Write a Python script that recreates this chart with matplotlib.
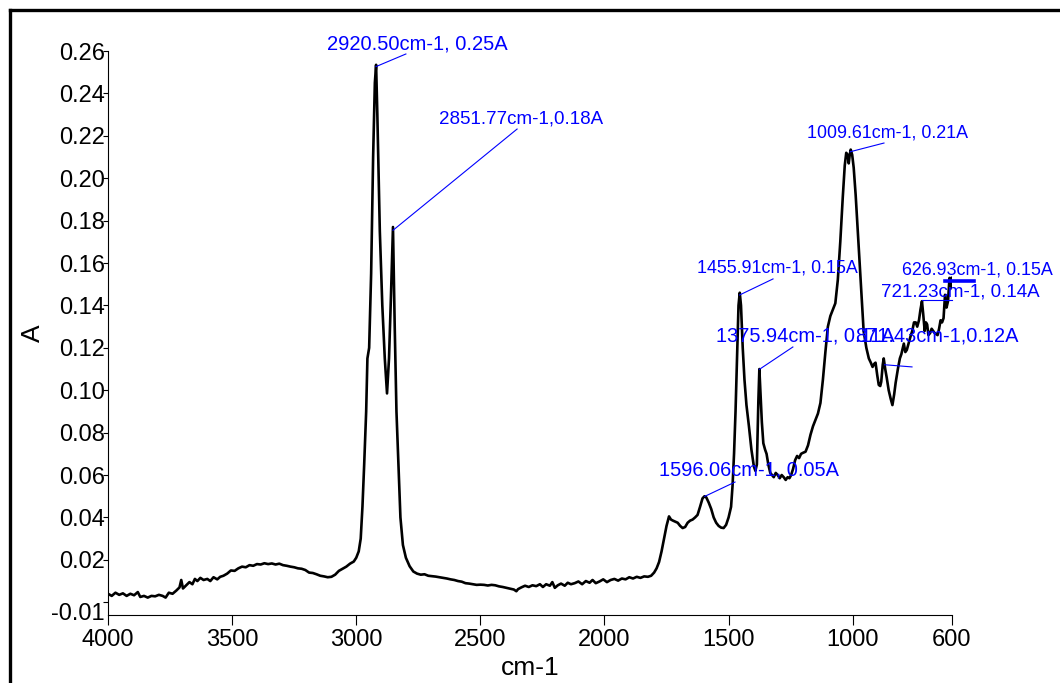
import numpy as np
import matplotlib
matplotlib.use('Agg')
import matplotlib.pyplot as plt
from matplotlib.lines import Line2D
from matplotlib.transforms import ScaledTranslation

plt.rcParams['font.family'] = ['Liberation Sans', 'DejaVu Sans']

# FTIR absorbance spectrum (wavenumber in cm-1, absorbance in A)
wavenumber = [
    4000, 3985, 3970, 3955, 3940, 3925, 3910, 3895, 3880, 3870, 3855, 3840, 3825, 3810,
    3795, 3780, 3768, 3755, 3740, 3725, 3712, 3705, 3698, 3685, 3672, 3660, 3650, 3640,
    3628, 3615, 3600, 3588, 3575, 3560, 3548, 3535, 3520, 3505, 3490, 3475, 3460, 3445,
    3430, 3415, 3400, 3385, 3370, 3355, 3340, 3325, 3310, 3295, 3280, 3265, 3250, 3235,
    3220, 3205, 3190, 3175, 3160, 3145, 3130, 3115, 3100, 3085, 3070, 3055, 3040, 3025,
    3010, 3000, 2990, 2982, 2975, 2968, 2960, 2955, 2948, 2940, 2932, 2925, 2920, 2915,
    2905, 2895, 2885, 2876, 2868, 2860, 2852, 2845, 2838, 2830, 2822, 2812, 2800, 2785,
    2770, 2755, 2740, 2725, 2710, 2695, 2680, 2665, 2650, 2635, 2620, 2605, 2590, 2575,
    2560, 2545, 2530, 2515, 2500, 2485, 2470, 2455, 2440, 2425, 2410, 2395, 2380, 2365,
    2355, 2348, 2335, 2320, 2305, 2290, 2275, 2260, 2248, 2235, 2220, 2210, 2200, 2188,
    2175, 2160, 2148, 2135, 2120, 2105, 2090, 2075, 2060, 2048, 2035, 2020, 2005, 1990,
    1975, 1960, 1945, 1930, 1915, 1900, 1885, 1870, 1855, 1840, 1825, 1812, 1800, 1790,
    1780, 1770, 1760, 1750, 1740, 1732, 1724, 1714, 1705, 1695, 1685, 1675, 1665, 1655,
    1645, 1635, 1625, 1615, 1605, 1597, 1590, 1580, 1570, 1560, 1550, 1540, 1530, 1520,
    1510, 1500, 1490, 1484, 1478, 1472, 1466, 1460, 1455, 1450, 1443, 1436, 1428, 1418,
    1408, 1398, 1392, 1386, 1380, 1376, 1372, 1366, 1360, 1353, 1347, 1340, 1332, 1325,
    1318, 1310, 1302, 1294, 1286, 1278, 1270, 1262, 1255, 1248, 1240, 1232, 1224, 1216,
    1208, 1200, 1190, 1180, 1170, 1160, 1150, 1140, 1130, 1120, 1110, 1100, 1090, 1080,
    1070, 1060, 1050, 1040, 1032, 1026, 1020, 1016, 1012, 1008, 1002, 996, 988, 980,
    968, 956, 945, 935, 927, 920, 913, 908, 901, 895, 889, 885, 879, 875,
    869, 863, 855, 847, 840, 833, 827, 818, 810, 804, 798, 794, 788, 782,
    775, 768, 760, 753, 746, 740, 733, 727, 721, 716, 710, 705, 700, 695,
    688, 682, 676, 670, 664, 658, 652, 646, 640, 634, 628, 622, 616, 610,
    605, 600,
]
absorbance = [
    0.0040, 0.0030, 0.0045, 0.0035, 0.0042, 0.0030, 0.0040, 0.0033, 0.0048, 0.0025, 0.0030, 0.0022, 0.0030, 0.0028,
    0.0035, 0.0030, 0.0022, 0.0045, 0.0040, 0.0055, 0.0070, 0.0105, 0.0065, 0.0080, 0.0095, 0.0085, 0.0110, 0.0100,
    0.0115, 0.0105, 0.0110, 0.0100, 0.0118, 0.0108, 0.0120, 0.0125, 0.0135, 0.0150, 0.0148, 0.0160, 0.0168, 0.0165,
    0.0175, 0.0172, 0.0180, 0.0178, 0.0184, 0.0180, 0.0183, 0.0178, 0.0182, 0.0175, 0.0172, 0.0168, 0.0165, 0.0160,
    0.0158, 0.0152, 0.0140, 0.0138, 0.0132, 0.0125, 0.0122, 0.0118, 0.0120, 0.0130, 0.0148, 0.0158, 0.0168, 0.0182,
    0.0192, 0.0210, 0.0240, 0.0300, 0.0450, 0.0650, 0.0900, 0.1150, 0.1200, 0.1550, 0.2100, 0.2450, 0.2535, 0.2300,
    0.1750, 0.1400, 0.1150, 0.0985, 0.1150, 0.1450, 0.1770, 0.1300, 0.0900, 0.0650, 0.0400, 0.0270, 0.0210, 0.0170,
    0.0145, 0.0135, 0.0130, 0.0132, 0.0125, 0.0123, 0.0121, 0.0118, 0.0115, 0.0112, 0.0108, 0.0105, 0.0100, 0.0097,
    0.0090, 0.0088, 0.0085, 0.0082, 0.0083, 0.0082, 0.0079, 0.0082, 0.0080, 0.0075, 0.0072, 0.0068, 0.0064, 0.0060,
    0.0052, 0.0062, 0.0070, 0.0078, 0.0072, 0.0080, 0.0076, 0.0085, 0.0072, 0.0085, 0.0078, 0.0095, 0.0068, 0.0080,
    0.0088, 0.0078, 0.0092, 0.0085, 0.0090, 0.0098, 0.0085, 0.0100, 0.0092, 0.0105, 0.0090, 0.0098, 0.0108, 0.0095,
    0.0105, 0.0110, 0.0102, 0.0112, 0.0108, 0.0118, 0.0112, 0.0120, 0.0115, 0.0122, 0.0120, 0.0125, 0.0140, 0.0160,
    0.0190, 0.0240, 0.0300, 0.0360, 0.0405, 0.0390, 0.0385, 0.0380, 0.0375, 0.0360, 0.0350, 0.0355, 0.0375, 0.0385,
    0.0390, 0.0400, 0.0412, 0.0450, 0.0490, 0.0500, 0.0495, 0.0470, 0.0440, 0.0400, 0.0375, 0.0360, 0.0352, 0.0350,
    0.0365, 0.0400, 0.0450, 0.0550, 0.0700, 0.0900, 0.1150, 0.1400, 0.1460, 0.1400, 0.1200, 0.1050, 0.0930, 0.0830,
    0.0720, 0.0640, 0.0620, 0.0650, 0.0950, 0.1100, 0.1000, 0.0850, 0.0750, 0.0720, 0.0700, 0.0650, 0.0610, 0.0600,
    0.0590, 0.0610, 0.0600, 0.0585, 0.0600, 0.0590, 0.0577, 0.0590, 0.0585, 0.0600, 0.0630, 0.0670, 0.0690, 0.0680,
    0.0700, 0.0705, 0.0710, 0.0740, 0.0790, 0.0830, 0.0860, 0.0890, 0.0940, 0.1050, 0.1180, 0.1300, 0.1350, 0.1380,
    0.1410, 0.1520, 0.1700, 0.1910, 0.2060, 0.2120, 0.2110, 0.2070, 0.2110, 0.2135, 0.2110, 0.2050, 0.1920, 0.1760,
    0.1520, 0.1280, 0.1200, 0.1150, 0.1130, 0.1110, 0.1125, 0.1130, 0.1070, 0.1025, 0.1020, 0.1040, 0.1120, 0.1150,
    0.1100, 0.1060, 0.1000, 0.0960, 0.0930, 0.0980, 0.1035, 0.1100, 0.1150, 0.1170, 0.1200, 0.1220, 0.1180, 0.1190,
    0.1220, 0.1250, 0.1280, 0.1320, 0.1320, 0.1300, 0.1330, 0.1380, 0.1420, 0.1360, 0.1280, 0.1320, 0.1310, 0.1260,
    0.1270, 0.1290, 0.1280, 0.1270, 0.1265, 0.1260, 0.1290, 0.1330, 0.1320, 0.1340, 0.1450, 0.1390, 0.1420, 0.1530,
    0.1480, 0.1530,
]

# picked peaks
peak_wn = [2920.50, 2851.77, 1009.61, 1455.91, 1375.94, 871.43, 721.23, 626.93, 1596.06]
peak_a = [0.25, 0.18, 0.21, 0.15, 0.11, 0.12, 0.14, 0.15, 0.05]
peak_sep = [', ', ',', ', ', ', ', ', ', ',', ', ', ', ', ', ']

# label placement: text anchor (wn, A), leader end (wn, A), font size
label_pos = [(3118, 0.2609), (2667, 0.2256), (1184, 0.2190), (1627, 0.1553),
             (1551, 0.1228), (991, 0.1228), (886, 0.1440), (802, 0.1548), (1780, 0.0596)]
leader_end = [(2800, 0.2586), (2352, 0.2232), (874, 0.2166), (1321, 0.1525),
              (1241, 0.1204), (761, 0.1110), (600, 0.1426), (511, 0.1515), (1474, 0.0567)]
label_size = [14.5, 13.5, 12.85, 12.85, 14.4, 14.4, 13.5, 12.85, 14.4]
flat_leader = [False, False, False, False, False, False, True, True, False]

yticks = [0.0, 0.02, 0.04, 0.06, 0.08, 0.10, 0.12, 0.14, 0.16, 0.18, 0.20, 0.22, 0.24, 0.26]
ytick_labels = ['-0.01', '0.02', '0.04', '0.06', '0.08', '0.10', '0.12', '0.14', '0.16',
                '0.18', '0.20', '0.22', '0.24', '0.26']
xticks = [4000, 3500, 3000, 2500, 2000, 1500, 1000, 600]

fig = plt.figure(figsize=(10.6, 6.83), dpi=100)
ax = fig.add_axes([0.1019, 0.0996, 0.7962, 0.8257])

ax.plot(wavenumber, absorbance, color='black', lw=1.9, solid_joinstyle='round')

ax.set_xlim(4000, 600)
ax.set_ylim(-0.006, 0.26)
ax.set_xticks(xticks)
ax.set_xticklabels([str(t) for t in xticks])
ax.set_yticks(yticks)
ax.set_yticklabels(ytick_labels)

for s in ['top', 'right']:
    ax.spines[s].set_visible(False)
for s in ['left', 'bottom']:
    ax.spines[s].set_linewidth(0.8)

ax.tick_params(axis='x', direction='out', length=7, width=0.8, pad=3, labelsize=17)
ax.tick_params(axis='y', direction='out', length=3.6, width=0.8, pad=-1.5, labelsize=17)

# bottom label sits a little lower than its tick
low = ax.get_yticklabels()[0]
low.set_transform(low.get_transform() + ScaledTranslation(0, -0.09, fig.dpi_scale_trans))

ax.set_xlabel('cm-1', fontsize=19, labelpad=4)
ax.set_ylabel('A', fontsize=19, labelpad=5)

wn_r = np.array(wavenumber)[::-1]
a_r = np.array(absorbance)[::-1]
for i in range(len(peak_wn)):
    label = f'{peak_wn[i]:.2f}cm-1{peak_sep[i]}{peak_a[i]:.2f}A'
    if flat_leader[i]:
        y0 = leader_end[i][1]
    else:
        y0 = np.interp(peak_wn[i], wn_r, a_r)
    lw = 2.6 if peak_wn[i] == 626.93 else 0.8
    ax.plot([peak_wn[i], leader_end[i][0]], [y0, leader_end[i][1]],
            color='#0000ff', lw=lw, clip_on=False)
    ax.text(label_pos[i][0], label_pos[i][1], label, color='#0000ff',
            fontsize=label_size[i], ha='left', va='baseline', clip_on=False)

# outer frame
fig.add_artist(Line2D([9.5 / 1060, 9.5 / 1060], [0, 1 - 10 / 683],
                      transform=fig.transFigure, color='black', lw=2.4))
fig.add_artist(Line2D([9.5 / 1060, 1], [1 - 10 / 683, 1 - 10 / 683],
                      transform=fig.transFigure, color='black', lw=2.4))

fig.savefig('out.png', dpi=100)
